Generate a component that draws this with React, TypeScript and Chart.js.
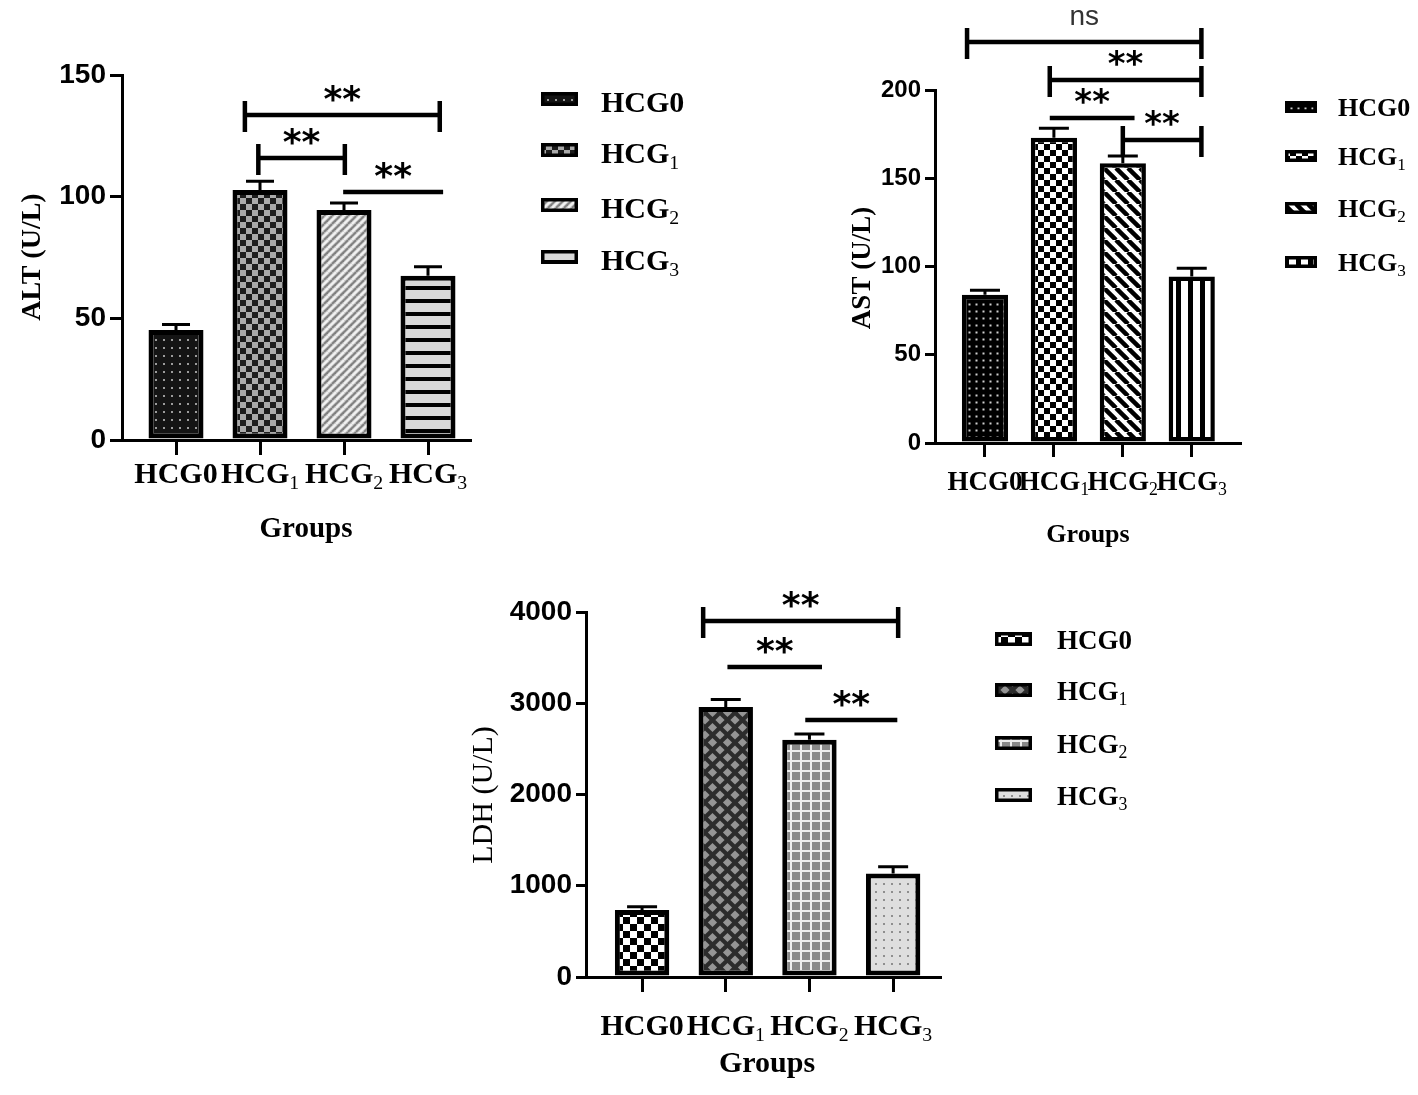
import { useEffect, useRef } from "react";
import Chart from "chart.js/auto";

// groups on the x axis; the last digit is set as a subscript where flagged
const groups = ["HCG0", "HCG1", "HCG2", "HCG3"];
const subscripted = [false, true, true, true];

const altValues = [45.2, 102.7, 94.5, 67.5];
const altErrors = [2.3, 3.6, 2.9, 3.7];
const altTicks = [0, 50, 100, 150];

const astValues = [84, 173, 158.5, 94.3];
const astErrors = [2.5, 5.3, 4.1, 4.7];
const astTicks = [0, 50, 100, 150, 200];

const ldhValues = [735, 2960, 2600, 1135];
const ldhErrors = [35, 80, 62, 72];
const ldhTicks = [0, 1000, 2000, 3000, 4000];

// significance comparisons (x in group units, y in U/L)
const altBrackets = [
  { from: 0.82, to: 3.14, y: 133.6, label: "**", caps: true },
  { from: 0.98, to: 2.01, y: 115.9, label: "**", caps: true },
  { from: 1.99, to: 3.18, y: 101.9, label: "**", caps: false },
];
const astBrackets = [
  { from: -0.26, to: 3.14, y: 227.2, label: "ns", caps: true },
  { from: 0.94, to: 3.14, y: 205.7, label: "**", caps: true },
  { from: 0.94, to: 2.17, y: 184.1, label: "**", caps: false },
  { from: 2.0, to: 3.14, y: 171.7, label: "**", caps: true },
];
const ldhBrackets = [
  { from: 0.73, to: 3.06, y: 3901, label: "**", caps: true },
  { from: 1.02, to: 2.15, y: 3397, label: "**", caps: false },
  { from: 1.95, to: 3.05, y: 2816, label: "**", caps: false },
];

const W = 1418;
const H = 1095;
const SERIF = '"Liberation Serif", "Times New Roman", serif';
const SANS = '"Liberation Sans", Arial, sans-serif';

type Paint = (g: CanvasRenderingContext2D, w: number, h: number) => void;

function tile(w: number, h: number, paint: Paint) {
  const c = document.createElement("canvas");
  c.width = w;
  c.height = h;
  const g = c.getContext("2d")!;
  paint(g, w, h);
  return g.createPattern(c, "repeat")!;
}

const dots = (p: number, bg: string, dot: string, s = 2) => () =>
  tile(p, p, (g) => {
    g.fillStyle = bg;
    g.fillRect(0, 0, p, p);
    g.fillStyle = dot;
    g.fillRect((p - s) / 2, (p - s) / 2, s, s);
  });

const checker = (cell: number, a: string, b: string) => () =>
  tile(cell * 2, cell * 2, (g) => {
    g.fillStyle = a;
    g.fillRect(0, 0, cell * 2, cell * 2);
    g.fillStyle = b;
    g.fillRect(cell, 0, cell, cell);
    g.fillRect(0, cell, cell, cell);
  });

const hatchLight = () =>
  tile(8, 8, (g) => {
    g.fillStyle = "#c6c6c6";
    g.fillRect(0, 0, 8, 8);
    g.lineWidth = 2;
    g.strokeStyle = "#f2f2f2";
    for (const o of [-8, 0, 8]) {
      g.beginPath();
      g.moveTo(o, 8);
      g.lineTo(o + 8, 0);
      g.stroke();
    }
    g.strokeStyle = "#7e7e7e";
    g.lineWidth = 1.8;
    for (const o of [-4, 4]) {
      g.beginPath();
      g.moveTo(o, 8);
      g.lineTo(o + 8, 0);
      g.stroke();
    }
  });

const hStripes = () =>
  tile(4, 13, (g) => {
    g.fillStyle = "#d8d8d8";
    g.fillRect(0, 0, 4, 13);
    g.fillStyle = "#000";
    g.fillRect(0, 0, 4, 4);
  });

const diagStripes = () =>
  tile(12, 12, (g) => {
    g.fillStyle = "#fff";
    g.fillRect(0, 0, 12, 12);
    g.strokeStyle = "#000";
    g.lineWidth = 4.5;
    for (const o of [-12, 0, 12]) {
      g.beginPath();
      g.moveTo(o, 0);
      g.lineTo(o + 12, 12);
      g.stroke();
    }
  });

const vStripes = () =>
  tile(12, 4, (g) => {
    g.fillStyle = "#fff";
    g.fillRect(0, 0, 12, 4);
    g.fillStyle = "#000";
    g.fillRect(0, 0, 5, 4);
  });

const diamonds = () =>
  tile(15, 15, (g) => {
    g.fillStyle = "#2c2c2c";
    g.fillRect(0, 0, 15, 15);
    g.fillStyle = "#959595";
    const d = 4.6;
    for (const [cx, cy] of [[7.5, 7.5], [0, 0], [15, 0], [0, 15], [15, 15]]) {
      g.beginPath();
      g.moveTo(cx, cy - d);
      g.lineTo(cx + d, cy);
      g.lineTo(cx, cy + d);
      g.lineTo(cx - d, cy);
      g.closePath();
      g.fill();
    }
  });

const plaid = () =>
  tile(10, 10, (g) => {
    g.fillStyle = "#8a8a8a";
    g.fillRect(0, 0, 10, 10);
    g.fillStyle = "#eeeeee";
    g.fillRect(0, 0, 10, 2);
    g.fillRect(0, 0, 2, 10);
  });

interface Bracket {
  from: number;
  to: number;
  y: number;
  label: string;
  caps: boolean;
}

interface PanelSpec {
  values: number[];
  errors: number[];
  ticks: number[];
  brackets: Bracket[];
  patterns: (() => CanvasPattern)[];
  area: [number, number, number, number];
  xRange: [number, number];
  barPct: number;
  border: number;
  cap: number;
  tickFont: number;
  yTickLen: number;
  xTickLen: number;
  yTitle: string;
  yTitleBold: boolean;
  yTitleSize: number;
  yTitlePos: [number, number];
  xLabelSize: number;
  xLabelBase: number;
  groupsPos: [number, number];
  groupsSize: number;
  legendX: number;
  legendW: number;
  legendH: number;
  legendYs: number[];
  legendTextX: number;
  legendSize: number;
  legendDy: number;
  starSize: number;
}

function drawGroup(
  ctx: CanvasRenderingContext2D,
  i: number,
  x: number,
  base: number,
  size: number,
  align: "center" | "left"
) {
  const name = groups[i];
  const main = subscripted[i] ? name.slice(0, -1) : name;
  const sub = subscripted[i] ? name.slice(-1) : "";
  const subSize = size * 0.66;
  ctx.font = `bold ${size}px ${SERIF}`;
  const w1 = ctx.measureText(main).width;
  ctx.font = `${subSize}px ${SERIF}`;
  const w2 = sub ? ctx.measureText(sub).width : 0;
  const sx = align === "center" ? x - (w1 + w2) / 2 : x;
  ctx.textAlign = "left";
  ctx.textBaseline = "alphabetic";
  ctx.fillStyle = "#000";
  ctx.font = `bold ${size}px ${SERIF}`;
  ctx.fillText(main, sx, base);
  if (sub) {
    ctx.font = `${subSize}px ${SERIF}`;
    ctx.fillText(sub, sx + w1, base + size * 0.2);
  }
}

function overlay(spec: PanelSpec, patterns: CanvasPattern[]) {
  return {
    id: "overlay",
    afterDatasetsDraw(chart: Chart) {
      const ctx = chart.ctx;
      const xs = chart.scales.x;
      const ys = chart.scales.y;
      ctx.save();
      ctx.strokeStyle = "#000";
      ctx.lineCap = "butt";

      // error bars (upper whisker only)
      ctx.lineWidth = 3;
      spec.values.forEach((v, i) => {
        const x = xs.getPixelForValue(i);
        const y0 = ys.getPixelForValue(v);
        const y1 = ys.getPixelForValue(v + spec.errors[i]);
        ctx.beginPath();
        ctx.moveTo(x, y0);
        ctx.lineTo(x, y1);
        ctx.moveTo(x - spec.cap / 2, y1);
        ctx.lineTo(x + spec.cap / 2, y1);
        ctx.stroke();
      });

      // significance brackets
      spec.brackets.forEach((b) => {
        const x1 = xs.getPixelForValue(b.from);
        const x2 = xs.getPixelForValue(b.to);
        const y = ys.getPixelForValue(b.y);
        ctx.lineWidth = 4.5;
        ctx.beginPath();
        ctx.moveTo(x1, y);
        ctx.lineTo(x2, y);
        if (b.caps) {
          ctx.moveTo(x1, y - 14);
          ctx.lineTo(x1, y + 17);
          ctx.moveTo(x2, y - 14);
          ctx.lineTo(x2, y + 17);
        }
        ctx.stroke();
        const cx = (x1 + x2) / 2;
        ctx.textAlign = "center";
        ctx.textBaseline = "alphabetic";
        if (b.label === "ns") {
          ctx.fillStyle = "#333";
          ctx.font = `28px ${SANS}`;
          ctx.fillText(b.label, cx, y - 17);
        } else {
          ctx.fillStyle = "#000";
          ctx.font = `bold ${spec.starSize}px "DejaVu Sans", sans-serif`;
          ctx.fillText(b.label, cx, y - 24 + spec.starSize * 0.55);
        }
      });
      ctx.restore();
    },
    afterDraw(chart: Chart) {
      const ctx = chart.ctx;
      const xs = chart.scales.x;
      ctx.save();

      groups.forEach((_, i) => {
        drawGroup(ctx, i, xs.getPixelForValue(i), spec.xLabelBase, spec.xLabelSize, "center");
      });

      ctx.fillStyle = "#000";
      ctx.textAlign = "center";
      ctx.textBaseline = "alphabetic";
      ctx.font = `bold ${spec.groupsSize}px ${SERIF}`;
      ctx.fillText("Groups", spec.groupsPos[0], spec.groupsPos[1]);

      ctx.save();
      ctx.translate(spec.yTitlePos[0], spec.yTitlePos[1]);
      ctx.rotate(-Math.PI / 2);
      ctx.textBaseline = "middle";
      ctx.font = `${spec.yTitleBold ? "bold " : ""}${spec.yTitleSize}px ${SERIF}`;
      ctx.fillText(spec.yTitle, 0, 0);
      ctx.restore();

      // legend
      spec.legendYs.forEach((cy, i) => {
        const x = spec.legendX;
        const y = cy - spec.legendH / 2;
        ctx.fillStyle = patterns[i];
        ctx.fillRect(x, y, spec.legendW, spec.legendH);
        ctx.strokeStyle = "#000";
        ctx.lineWidth = 3.5;
        ctx.strokeRect(x + 1.75, y + 1.75, spec.legendW - 3.5, spec.legendH - 3.5);
        drawGroup(ctx, i, spec.legendTextX, cy + spec.legendDy, spec.legendSize, "left");
      });
      ctx.restore();
    },
  };
}

function Panel({ spec }: { spec: PanelSpec }) {
  const ref = useRef<HTMLCanvasElement>(null);

  useEffect(() => {
    if (!ref.current) return;
    const patterns = spec.patterns.map((p) => p());
    const [L, T, R, B] = spec.area;
    const yMax = spec.ticks[spec.ticks.length - 1];
    const chart = new Chart(ref.current, {
      type: "bar",
      data: {
        datasets: [
          {
            data: spec.values.map((v, i) => ({ x: i, y: v })),
            backgroundColor: patterns,
            borderColor: "#000",
            borderWidth: spec.border,
            borderSkipped: false,
            barPercentage: spec.barPct,
            categoryPercentage: 1,
          },
        ],
      },
      options: {
        responsive: false,
        animation: false,
        devicePixelRatio: 1,
        layout: { padding: { left: L - 100, top: T, right: W - R, bottom: H - B - 20 } },
        plugins: { legend: { display: false }, tooltip: { enabled: false } },
        scales: {
          x: {
            type: "linear",
            min: spec.xRange[0],
            max: spec.xRange[1],
            offset: false,
            afterBuildTicks: (s: any) => {
              s.ticks = groups.map((_, i) => ({ value: i }));
            },
            afterFit: (s: any) => {
              s.height = 20;
            },
            ticks: { display: false },
            grid: {
              offset: false,
              drawOnChartArea: false,
              drawTicks: true,
              tickLength: spec.xTickLen,
              lineWidth: 3,
              color: "#000",
            },
            border: { width: 3, color: "#000" },
          },
          y: {
            min: 0,
            max: yMax,
            afterBuildTicks: (s: any) => {
              s.ticks = spec.ticks.map((v) => ({ value: v }));
            },
            afterFit: (s: any) => {
              s.width = 100;
            },
            ticks: {
              color: "#000",
              padding: 4,
              callback: (v: any) => String(v),
              font: { family: SANS, weight: "bold", size: spec.tickFont },
            },
            grid: {
              drawOnChartArea: false,
              drawTicks: true,
              tickLength: spec.yTickLen,
              lineWidth: 3,
              color: "#000",
            },
            border: { width: 3, color: "#000" },
          },
        },
      },
      plugins: [overlay(spec, patterns)],
    } as any);
    return () => chart.destroy();
  }, [spec]);

  return (
    <canvas
      ref={ref}
      width={W}
      height={H}
      style={{ position: "absolute", left: 0, top: 0, width: W, height: H }}
    />
  );
}

const altSpec: PanelSpec = {
  values: altValues,
  errors: altErrors,
  ticks: altTicks,
  brackets: altBrackets,
  patterns: [dots(8, "#141414", "#9c9c9c"), checker(6, "#1c1c1c", "#a9a9a9"), hatchLight, hStripes],
  area: [122, 75, 470, 440],
  xRange: [-0.643, 3.5],
  barPct: 0.655,
  border: 5,
  cap: 28,
  tickFont: 28,
  yTickLen: 12,
  xTickLen: 15,
  yTitle: "ALT (U/L)",
  yTitleBold: true,
  yTitleSize: 28,
  yTitlePos: [33, 257],
  xLabelSize: 30,
  xLabelBase: 483,
  groupsPos: [306, 537],
  groupsSize: 29,
  legendX: 541,
  legendW: 37,
  legendH: 14,
  legendYs: [99, 150, 205, 257],
  legendTextX: 601,
  legendSize: 30,
  legendDy: 13,
  starSize: 36,
};

const astSpec: PanelSpec = {
  values: astValues,
  errors: astErrors,
  ticks: astTicks,
  brackets: astBrackets,
  patterns: [dots(7, "#000", "#cfcfcf"), checker(6, "#000", "#fff"), diagStripes, vStripes],
  area: [935, 90, 1240, 443],
  xRange: [-0.725, 3.7],
  barPct: 0.67,
  border: 4.5,
  cap: 30,
  tickFont: 24,
  yTickLen: 10,
  xTickLen: 14,
  yTitle: "AST (U/L)",
  yTitleBold: true,
  yTitleSize: 27,
  yTitlePos: [863, 268],
  xLabelSize: 27,
  xLabelBase: 490,
  groupsPos: [1088, 542],
  groupsSize: 26,
  legendX: 1285,
  legendW: 32,
  legendH: 12,
  legendYs: [107, 156, 208, 262],
  legendTextX: 1338,
  legendSize: 26,
  legendDy: 9,
  starSize: 34,
};

const ldhSpec: PanelSpec = {
  values: ldhValues,
  errors: ldhErrors,
  ticks: ldhTicks,
  brackets: ldhBrackets,
  patterns: [checker(7, "#000", "#fff"), diamonds, plaid, dots(8, "#dedede", "#8e8e8e")],
  area: [586, 612, 940, 977],
  xRange: [-0.67, 3.56],
  barPct: 0.65,
  border: 5,
  cap: 30,
  tickFont: 28,
  yTickLen: 10,
  xTickLen: 15,
  yTitle: "LDH (U/L)",
  yTitleBold: false,
  yTitleSize: 30,
  yTitlePos: [484, 795],
  xLabelSize: 30,
  xLabelBase: 1035,
  groupsPos: [767, 1072],
  groupsSize: 30,
  legendX: 995,
  legendW: 37,
  legendH: 14,
  legendYs: [639, 690, 743, 795],
  legendTextX: 1057,
  legendSize: 27,
  legendDy: 10,
  starSize: 36,
};

export default function App() {
  return (
    <div style={{ position: "absolute", left: 0, top: 0, width: W, height: H, background: "#fff" }}>
      <Panel spec={altSpec} />
      <Panel spec={astSpec} />
      <Panel spec={ldhSpec} />
    </div>
  );
}
